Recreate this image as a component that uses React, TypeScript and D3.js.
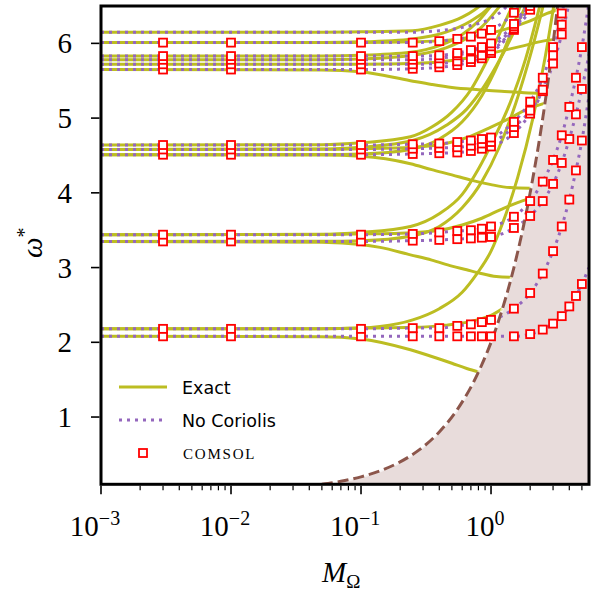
import { useEffect, useRef } from 'react'
import * as d3 from 'd3'

type Pt = [number, number]

// M_Omega samples for the no-Coriolis branches (COMSOL runs at indices 1..17)
const ncM = [0.001, 0.003, 0.01, 0.1, 0.25, 0.4, 0.55, 0.7, 0.85, 1, 1.5, 2, 2.5, 3, 3.5, 4, 4.5, 5, 5.67]

// no-Coriolis branches, omega* at each ncM
const noCoriolis: number[][] = [
  [2.08, 2.08, 2.08, 2.08, 2.08, 2.08, 2.08, 2.08, 2.08, 2.08, 2.08, 2.11, 2.17, 2.25, 2.35, 2.48, 2.62, 2.78, 3.0],
  [2.18, 2.18, 2.18, 2.18, 2.19, 2.19, 2.22, 2.24, 2.27, 2.3, 2.45, 2.66, 2.92, 3.22, 3.55, 3.91, 4.3, 4.7, 5.3],
  [3.35, 3.35, 3.35, 3.35, 3.36, 3.37, 3.38, 3.39, 3.4, 3.41, 3.53, 3.69, 3.89, 4.12, 4.4, 4.72, 5.05, 5.39, 5.85],
  [3.44, 3.44, 3.44, 3.44, 3.45, 3.47, 3.49, 3.5, 3.52, 3.55, 3.68, 3.89, 4.15, 4.44, 4.77, 5.15, 5.54, 5.95, 6.55],
  [4.51, 4.51, 4.51, 4.51, 4.52, 4.53, 4.54, 4.56, 4.59, 4.62, 4.8, 5.06, 5.36, 5.73, 6.12, 6.55, 7.0, 7.4, 8.0],
  [4.58, 4.58, 4.58, 4.58, 4.59, 4.6, 4.61, 4.63, 4.66, 4.68, 4.88, 5.1, 5.38, 5.84, 6.25, 6.7, 7.1, 7.5, 8.1],
  [4.64, 4.64, 4.64, 4.64, 4.65, 4.66, 4.68, 4.7, 4.72, 4.74, 4.95, 5.22, 5.54, 5.95, 6.4, 6.85, 7.3, 7.7, 8.3],
  [5.65, 5.65, 5.65, 5.65, 5.66, 5.68, 5.71, 5.75, 5.8, 5.87, 6.18, 6.45, 6.8, 7.1, 7.4, 7.7, 8.0, 8.3, 8.7],
  [5.72, 5.72, 5.72, 5.72, 5.72, 5.73, 5.76, 5.79, 5.84, 5.9, 6.2, 6.5, 6.85, 7.2, 7.5, 7.8, 8.1, 8.4, 8.8],
  [5.78, 5.78, 5.78, 5.78, 5.78, 5.8, 5.84, 5.89, 5.94, 5.96, 6.23, 6.55, 6.9, 7.2, 7.5, 7.8, 8.1, 8.4, 8.8],
  [5.83, 5.83, 5.83, 5.83, 5.83, 5.84, 5.87, 5.91, 5.95, 6.0, 6.26, 6.6, 7.0, 7.3, 7.6, 7.9, 8.2, 8.5, 8.9],
  [6.01, 6.01, 6.01, 6.01, 6.01, 6.03, 6.06, 6.09, 6.13, 6.18, 6.41, 6.7, 7.0, 7.3, 7.6, 7.9, 8.2, 8.5, 8.9],
  [6.15, 6.15, 6.15, 6.15, 6.15, 6.17, 6.2, 6.24, 6.28, 6.33, 6.6, 6.9, 7.2, 7.5, 7.8, 8.1, 8.4, 8.7, 9.0],
]
// branches that have COMSOL markers (the 6.15 one has none)
const comsolBranches = 12

// exact (with Coriolis) branches, [M_Omega, omega*]
const exact2: Pt[][] = [
  [[0.001, 2.08], [0.05, 2.075], [0.1, 2.045], [0.24, 1.9], [0.35, 1.81], [0.5, 1.72], [0.65, 1.65], [0.81, 1.6]],
  [[0.001, 2.18], [0.05, 2.183], [0.1, 2.19], [0.25, 2.2], [0.45, 2.23], [0.7, 2.28], [1.0, 2.36], [1.22, 2.45]],
  [[0.001, 2.18], [0.05, 2.18], [0.1, 2.19], [0.14, 2.21], [0.25, 2.3], [0.4, 2.45], [0.6, 2.67], [0.78, 2.92], [1.0, 3.22], [1.17, 3.5], [1.6, 4.2], [2.1, 5.0], [2.6, 5.8], [3.1, 6.6]],
]
const exact3: Pt[][] = [
  [[0.001, 3.35], [0.05, 3.34], [0.1, 3.31], [0.14, 3.27], [0.24, 3.17], [0.35, 3.1], [0.5, 3.02], [0.65, 2.97], [0.8, 2.93], [1.1, 2.88], [1.45, 2.87]],
  [[0.001, 3.44], [0.05, 3.443], [0.1, 3.45], [0.2, 3.46], [0.4, 3.5], [0.6, 3.57], [0.85, 3.66], [1.2, 3.78], [1.6, 3.87], [1.96, 3.92]],
  [[0.001, 3.44], [0.05, 3.445], [0.1, 3.47], [0.24, 3.55], [0.4, 3.72], [0.6, 3.98], [0.8, 4.32], [1.05, 4.72], [1.4, 5.2], [1.85, 5.8], [2.45, 6.6]],
  [[0.001, 3.35], [0.05, 3.352], [0.1, 3.36], [0.24, 3.42], [0.4, 3.55], [0.6, 3.8], [0.85, 4.15], [1.15, 4.6], [1.55, 5.2], [2.05, 5.9], [2.6, 6.6]],
]
const exact4: Pt[][] = [
  [[0.001, 4.51], [0.05, 4.505], [0.1, 4.49], [0.24, 4.39], [0.35, 4.31], [0.5, 4.24], [0.7, 4.17], [1.0, 4.11], [1.4, 4.07], [2.03, 4.06]],
  [[0.001, 4.58], [0.05, 4.583], [0.1, 4.59], [0.25, 4.61], [0.45, 4.66], [0.7, 4.76], [1.0, 4.88], [1.4, 5.0], [1.9, 5.12], [2.6, 5.2]],
  [[0.001, 4.58], [0.05, 4.585], [0.1, 4.61], [0.25, 4.7], [0.45, 4.9], [0.65, 5.12], [0.85, 5.38], [1.1, 5.7], [1.45, 6.1], [1.95, 6.6]],
  [[0.001, 4.64], [0.05, 4.645], [0.1, 4.67], [0.24, 4.75], [0.35, 4.88], [0.5, 5.08], [0.7, 5.38], [0.9, 5.72], [1.2, 6.18], [1.55, 6.6]],
  [[0.001, 4.51], [0.05, 4.512], [0.1, 4.52], [0.24, 4.58], [0.4, 4.72], [0.6, 4.95], [0.85, 5.3], [1.15, 5.75], [1.5, 6.25], [1.75, 6.6]],
]
const exact5: Pt[][] = [
  [[0.001, 5.65], [0.05, 5.645], [0.1, 5.62], [0.24, 5.5], [0.35, 5.45], [0.5, 5.41], [0.8, 5.38], [1.2, 5.36], [1.8, 5.34], [2.66, 5.33]],
  [[0.001, 5.72], [0.05, 5.72], [0.1, 5.72], [0.25, 5.73], [0.5, 5.77], [0.8, 5.83], [1.2, 5.9], [1.8, 5.97], [2.5, 6.03], [2.98, 6.05]],
  [[0.001, 5.78], [0.05, 5.782], [0.1, 5.79], [0.25, 5.84], [0.45, 5.94], [0.65, 6.07], [0.85, 6.22], [1.05, 6.4], [1.3, 6.6]],
  [[0.001, 5.83], [0.05, 5.832], [0.1, 5.84], [0.24, 5.88], [0.4, 5.97], [0.6, 6.12], [0.8, 6.3], [1.0, 6.5], [1.12, 6.6]],
]
const exact6: Pt[][] = [
  [[0.001, 6.01], [0.05, 6.01], [0.1, 6.01], [0.25, 6.02], [0.45, 6.04], [0.8, 6.1], [1.3, 6.19], [2.0, 6.3], [2.7, 6.4], [3.22, 6.45]],
  [[0.001, 6.01], [0.05, 6.012], [0.1, 6.02], [0.25, 6.06], [0.45, 6.15], [0.7, 6.3], [0.9, 6.43], [1.05, 6.55], [1.12, 6.6]],
  [[0.001, 6.15], [0.05, 6.15], [0.1, 6.155], [0.25, 6.17], [0.4, 6.24], [0.6, 6.35], [0.75, 6.45], [0.9, 6.56], [0.95, 6.6]],
]

// inertial limit (dashed)
const limitM = [0.05, 0.07, 0.1, 0.14, 0.2, 0.28, 0.4, 0.55, 0.8, 1.1, 1.5, 2.0, 2.6, 3.3, 4.5, 5.67]
const limitW = [0.1, 0.14, 0.2, 0.28, 0.4, 0.56, 0.8, 1.1, 1.6, 2.2, 3.0, 4.0, 5.2, 6.6, 9.0, 11.3]

const xTicks = [1e-3, 1e-2, 1e-1, 1]
const xTickExp = ['\u22123', '\u22122', '\u22121', '0']
const yTicks = [1, 2, 3, 4, 5, 6]

const OLIVE = '#bcbd22'
const PURPLE = '#9467bd'
const BROWN = '#8c564b'
const SERIF = '"Liberation Serif", "DejaVu Serif", serif'
const SANS = '"DejaVu Sans", "Liberation Sans", sans-serif'

export default function App() {
  const ref = useRef<SVGSVGElement | null>(null)

  useEffect(() => {
    const el = ref.current
    if (!el) return
    const svg = d3.select(el)
    svg.selectAll('*').remove()

    const L = 101, R = 589, T = 6, B = 484.3
    const x = d3.scaleLog().domain([1e-3, 5.67]).range([L, R])
    const y = d3.scaleLinear().domain([0.1, 6.5]).range([B, T])

    svg.append('defs').append('clipPath').attr('id', 'plot')
      .append('rect').attr('x', L).attr('y', T).attr('width', R - L).attr('height', B - T)
    const g = svg.append('g').attr('clip-path', 'url(#plot)')

    const limit: Pt[] = limitM.map((mv, i) => [mv, limitW[i]])

    // shaded region below the limit
    g.append('path')
      .datum(limit)
      .attr('d', d3.area<Pt>().x(d => x(d[0])).y0(B + 5).y1(d => y(d[1])).curve(d3.curveMonotoneX))
      .attr('fill', '#e8dcdb')

    const line = d3.line<Pt>().x(d => x(d[0])).y(d => y(d[1])).curve(d3.curveMonotoneX)

    const exact = [...exact2, ...exact3, ...exact4, ...exact5, ...exact6]
    g.selectAll('path.exact').data(exact).join('path')
      .attr('class', 'exact')
      .attr('d', d => line(d))
      .attr('fill', 'none').attr('stroke', OLIVE).attr('stroke-width', 3)

    const nc: Pt[][] = noCoriolis.map(ws => ws.map((w, i) => [ncM[i], w] as Pt))
    g.selectAll('path.nc').data(nc).join('path')
      .attr('class', 'nc')
      .attr('d', d => line(d))
      .attr('fill', 'none').attr('stroke', PURPLE).attr('stroke-width', 3)
      .attr('stroke-dasharray', '3 5')

    // dashed limit
    g.append('path').datum(limit).attr('d', line)
      .attr('fill', 'none').attr('stroke', '#ffffff').attr('stroke-opacity', 0.6).attr('stroke-width', 3)
    g.append('path').datum(limit).attr('d', line)
      .attr('fill', 'none').attr('stroke', BROWN).attr('stroke-width', 3)
      .attr('stroke-dasharray', '11 5')

    // COMSOL markers
    const pts: Pt[] = []
    noCoriolis.slice(0, comsolBranches).forEach(ws => {
      for (let i = 1; i <= 17; i++) if (ws[i] <= 6.5) pts.push([ncM[i], ws[i]])
    })
    g.selectAll('rect.comsol').data(pts).join('rect')
      .attr('class', 'comsol')
      .attr('x', d => x(d[0]) - 4).attr('y', d => y(d[1]) - 4)
      .attr('width', 8).attr('height', 8)
      .attr('fill', '#fff').attr('stroke', '#ff0000').attr('stroke-width', 1.8)

    // frame
    svg.append('rect').attr('x', L).attr('y', T).attr('width', R - L).attr('height', B - T)
      .attr('fill', 'none').attr('stroke', '#000').attr('stroke-width', 3)

    // x ticks
    const minor: number[] = []
    for (const dec of [1e-3, 1e-2, 1e-1, 1]) for (let k = 2; k <= 9; k++) if (dec * k <= 5.67) minor.push(dec * k)
    const ax = svg.append('g')
    ax.selectAll('line.minor').data(minor).join('line')
      .attr('x1', d => x(d)).attr('x2', d => x(d)).attr('y1', B + 1.5).attr('y2', B + 6)
      .attr('stroke', '#000').attr('stroke-width', 1.2)
    ax.selectAll('line.major').data(xTicks).join('line')
      .attr('x1', d => x(d)).attr('x2', d => x(d)).attr('y1', B + 1.5).attr('y2', B + 10)
      .attr('stroke', '#000').attr('stroke-width', 1.6)
    const xl = ax.selectAll('text.xl').data(xTicks).join('text')
      .attr('x', d => x(d) - 6).attr('y', 536)
      .attr('text-anchor', 'middle')
      .attr('font-family', SERIF).attr('font-size', 29)
    xl.append('tspan').text('10')
    xl.append('tspan').attr('dy', -11).attr('font-size', 20).text((_, i) => xTickExp[i])

    // y ticks
    const ay = svg.append('g')
    ay.selectAll('line').data(yTicks).join('line')
      .attr('x1', L - 10).attr('x2', L - 1.5).attr('y1', d => y(d)).attr('y2', d => y(d))
      .attr('stroke', '#000').attr('stroke-width', 1.6)
    ay.selectAll('text').data(yTicks).join('text')
      .attr('x', 72).attr('y', d => y(d) + 10)
      .attr('text-anchor', 'end')
      .attr('font-family', SERIF).attr('font-size', 29)
      .text(d => d)

    // axis labels
    const xlab = svg.append('text').attr('x', 322).attr('y', 582)
      .attr('font-family', SERIF).attr('font-size', 29).attr('font-style', 'italic')
    xlab.append('tspan').text('M')
    xlab.append('tspan').attr('dy', 6).attr('font-size', 19).attr('font-style', 'normal').text('\u03a9')

    const ylab = svg.append('text').attr('transform', 'translate(42,258) rotate(-90)')
      .attr('font-family', SERIF).attr('font-size', 29).attr('font-style', 'italic')
    ylab.append('tspan').text('\u03c9')
    ylab.append('tspan').attr('dy', -11).attr('font-size', 20).attr('font-style', 'normal').text('*')

    // legend
    const lg = svg.append('g')
    lg.append('line').attr('x1', 119).attr('x2', 167).attr('y1', 387).attr('y2', 387)
      .attr('stroke', OLIVE).attr('stroke-width', 3)
    lg.append('line').attr('x1', 119).attr('x2', 167).attr('y1', 420).attr('y2', 420)
      .attr('stroke', PURPLE).attr('stroke-width', 3).attr('stroke-dasharray', '3 5')
    lg.append('rect').attr('x', 139).attr('y', 449).attr('width', 8).attr('height', 8)
      .attr('fill', '#fff').attr('stroke', '#ff0000').attr('stroke-width', 1.8)
    lg.append('text').attr('x', 182).attr('y', 394).attr('font-family', SANS).attr('font-size', 17.5).text('Exact')
    lg.append('text').attr('x', 182).attr('y', 427).attr('font-family', SANS).attr('font-size', 17.5).text('No Coriolis')
    lg.append('text').attr('x', 183).attr('y', 459).attr('font-family', SERIF).attr('font-size', 15)
      .attr('letter-spacing', 1.8).text('COMSOL')
  }, [])

  return <svg ref={ref} width={592} height={595} style={{ position: 'fixed', left: 0, top: 0, background: '#fff' }} />
}
